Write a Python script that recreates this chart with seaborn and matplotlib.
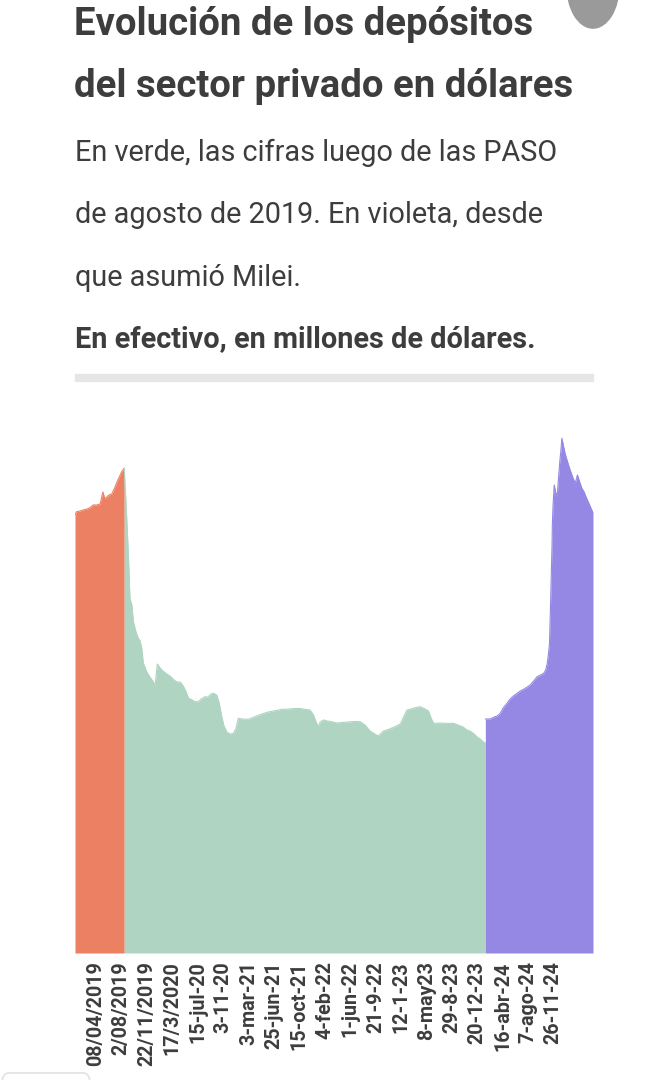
import matplotlib
matplotlib.use("Agg")
import matplotlib.pyplot as plt
from matplotlib.patches import Rectangle, Circle, FancyBboxPatch
import seaborn as sns
import pandas as pd

# ---------------- data ----------------
# x = trading-day index since the first observation, value = millions of USD
orange_idx = [0, 5, 16, 25, 38, 47, 57, 69, 79, 88, 93, 98, 107, 116, 126, 135, 147, 155]
orange_val = [29346, 29567, 29614, 29681, 29748, 29835, 30016, 30016, 30083, 30887, 30485,
              30505, 30686, 30753, 31222, 31691, 32247, 32475]

green_idx = [155, 161, 168, 173, 179, 184, 192, 199, 205, 210, 215, 226, 236, 247, 252, 259,
             268, 277, 289, 299, 312, 321, 331, 341, 350, 357, 369, 378, 388, 397, 409, 419,
             428, 436, 446, 454, 462, 469, 478, 488, 499, 507, 514, 526, 546, 564, 588, 608,
             630, 649, 672, 693, 709, 724, 740, 751, 759, 766, 772, 782, 794, 808, 824, 841,
             860, 879, 898, 913, 929, 940, 955, 971, 986, 1005, 1024, 1033, 1045, 1058, 1074,
             1087, 1102, 1113, 1121, 1129, 1150, 1172, 1192, 1206, 1222, 1234, 1244, 1257,
             1265, 1276, 1286, 1292]
green_val = [32475, 30016, 26666, 23785, 23316, 22177, 21507, 21105, 20904, 20435, 19430,
             18827, 18492, 18157, 17889, 19363, 19095, 18894, 18693, 18559, 18291, 18157,
             18157, 17889, 17487, 17085, 16951, 16837, 16837, 17018, 17172, 17152, 17353,
             17400, 17286, 16750, 15832, 15209, 14807, 14673, 14720, 15075, 15725, 15678,
             15658, 15812, 16013, 16147, 16234, 16315, 16348, 16382, 16382, 16328, 16281,
             15946, 15477, 15162, 15477, 15611, 15544, 15497, 15410, 15444, 15477, 15511,
             15497, 15276, 14874, 14720, 14539, 14874, 14975, 15142, 15343, 15745, 16281,
             16348, 16449, 16502, 16348, 16214, 15745, 15390, 15410, 15377, 15390, 15276,
             15142, 14941, 14874, 14673, 14492, 14338, 14137, 14070]

violet_idx = [1292, 1294, 1307, 1320, 1329, 1339, 1348, 1360, 1370, 1380, 1392, 1402, 1414,
              1424, 1433, 1444, 1455, 1466, 1476, 1482, 1487, 1491, 1494, 1496, 1498, 1500,
              1502, 1503, 1505, 1507, 1509, 1513, 1518, 1522, 1526, 1530, 1533, 1538, 1543,
              1551, 1559, 1567, 1575, 1582, 1589, 1596, 1603, 1611, 1619, 1627, 1631]
violet_val = [15678, 15678, 15678, 15812, 15879, 16060, 16415, 16730, 17018, 17219, 17400,
              17554, 17688, 17822, 17956, 18224, 18512, 18626, 18740, 18961, 19410, 20100,
              20750, 22311, 23872, 25661, 27222, 28676, 29902, 30686, 31356, 30887, 30572,
              31691, 32810, 33701, 34485, 33969, 33480, 32897, 32361, 31892, 31470, 32026,
              31557, 31135, 30887, 30465, 30083, 29681, 29547]

tick_labels = ["08/04/2019", "2/08/2019", "22/11/2019", "17/3/2020", "15-jul-20", "3-11-20",
               "3-mar-21", "25-jun-21", "15-oct-21", "4-feb-22", "1-jun-22", "21-9-22",
               "12-1-23", "8-may23", "29-8-23", "20-12-23", "16-abr-24", "7-ago-24",
               "26-11-24"]
tick_idx = [66, 146, 226, 306, 386, 466, 546, 626, 706, 786, 866, 946, 1026, 1106, 1186,
            1266, 1346, 1426, 1506]

title_lines = ["Evolución de los depósitos", "del sector privado en dólares"]
subtitle_lines = ["En verde, las cifras luego de las PASO",
                  "de agosto de 2019. En violeta, desde",
                  "que asumió Milei."]
unit_line = "En efectivo, en millones de dólares."

# ---------------- styling ----------------
ORANGE = "#EC8062"
GREEN = "#B0D4C2"
VIOLET = "#9488E4"
TEXT = "#3d3d3d"

sns.set_theme(style="white")
plt.rcParams["font.family"] = ["Roboto", "DejaVu Sans"]

W, H = 667, 1080
fig = plt.figure(figsize=(W / 100, H / 100), dpi=100)
fig.patch.set_facecolor("white")

def fx(px):
    return px / W

def fy(py):
    return 1 - py / H

ax = fig.add_axes([fx(75), fy(953), fx(593) - fx(75), (953 - 420) / H])
ax.set_facecolor("white")

segments = [
    (orange_idx, orange_val, ORANGE),
    (green_idx, green_val, GREEN),
    (violet_idx, violet_val, VIOLET),
]
for idx, val, col in segments:
    df = pd.DataFrame({"dia": idx, "millones": val})
    sns.lineplot(data=df, x="dia", y="millones", color=col, linewidth=0.8, ax=ax)
    ax.fill_between(df["dia"], 0, df["millones"], color=col, linewidth=0)

ax.set_xlim(0, 1631)
ax.set_ylim(0, (953 - 420) * 67)
ax.set_xlabel("")
ax.set_ylabel("")
ax.set_yticks([])
ax.set_xticks(tick_idx)
ax.set_xticklabels(tick_labels, rotation=90, fontsize=14.2, fontweight="bold", color=TEXT)
ax.tick_params(axis="x", length=0, pad=6)
for s in ax.spines.values():
    s.set_visible(False)

# ---------------- header text ----------------
fig.text(fx(74), fy(35), title_lines[0], fontsize=27.6, fontweight="bold", color=TEXT,
         va="baseline", ha="left")
fig.text(fx(74), fy(97), title_lines[1], fontsize=27.6, fontweight="bold", color=TEXT,
         va="baseline", ha="left")
for i, line in enumerate(subtitle_lines):
    fig.text(fx(75), fy(161 + 62.5 * i), line, fontsize=20.8, color=TEXT,
             va="baseline", ha="left")
fig.text(fx(75), fy(347), unit_line, fontsize=20.8, fontweight="bold", color=TEXT,
         va="baseline", ha="left")

# separator bar
fig.patches.append(Rectangle((fx(75), fy(381)), fx(593) - fx(75), 7 / H,
                             transform=fig.transFigure, color="#e6e6e6", zorder=0))
# screenshot artefacts: grey round button at the top right, box at the bottom left
fig.patches.append(Circle((fx(593), fy(-14)), 26 / W, transform=fig.transFigure,
                          color="#9a9a9a", zorder=0))
fig.patches.append(FancyBboxPatch((fx(2), fy(1095)), 88 / W, 22 / H,
                                  boxstyle="round,pad=0,rounding_size=0.01",
                                  transform=fig.transFigure, facecolor="white",
                                  edgecolor="#e2e2e2", linewidth=1.2, zorder=0))

fig.savefig("out.png", dpi=100, facecolor="white")
